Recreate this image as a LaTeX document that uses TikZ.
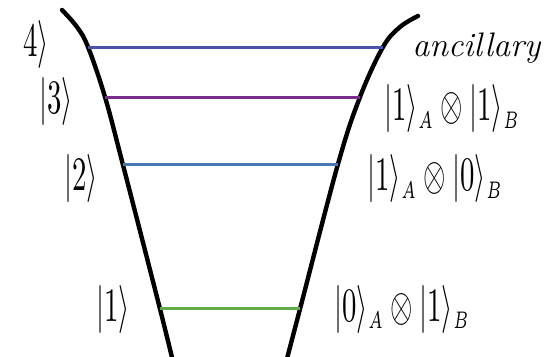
\documentclass[tikz,border=0pt]{standalone}
\usepackage{graphicx}
\usepackage{amsmath}
\usetikzlibrary{positioning}
\definecolor{lvlblue}{RGB}{72,82,168}
\definecolor{lvlpurple}{RGB}{122,45,140}
\definecolor{lvlsteel}{RGB}{72,122,178}
\definecolor{lvlgreen}{RGB}{96,172,74}
\newcommand{\ketlbl}[1]{\scalebox{1.44}[2.4]{$#1$}}
\newcommand{\subtag}[1]{_{\scriptscriptstyle #1}}

\begin{document}
\begin{tikzpicture}[x=0.5pt, y=-0.5pt,
    wall/.style={line width=2.2pt, black, line cap=round},
    level/.style={line width=1.5pt},
    ket/.style={inner sep=0pt, anchor=base west},
    note/.style={inner sep=0pt, anchor=base west, font=\fontsize{17}{20}\selectfont\itshape}
  ]
  \useasboundingbox (0,0) rectangle (555,357);

  % Walls of the well
  \begin{scope}
    \clip (0,0) rectangle (555,357);
    \draw[wall] plot[smooth, tension=0.6] coordinates {(62,10) (77,27) (88,47) (105,97) (123,165) (160,309) (175,370)};
    \draw[wall] plot[smooth, tension=0.6] coordinates {(418,16) (400,27) (383,47) (360,97) (338,164) (300,309) (284,370)};
  \end{scope}

  % Level ends on the walls
  \coordinate (l4) at (88,48);  \coordinate (r4) at (383,48);
  \coordinate (l3) at (105,98); \coordinate (r3) at (360,98);
  \coordinate (l2) at (123,165); \coordinate (r2) at (338,165);
  \coordinate (l1) at (160,308); \coordinate (r1) at (300,308);

  % Energy levels
  \draw[level, lvlblue] (l4) -- (r4);
  \draw[level, lvlpurple] (l3) -- (r3);
  \draw[level, lvlsteel] (l2) -- (r2);
  \draw[level, lvlgreen] (l1) -- (r1);

  % Left labels
  \node[ket] (k4) at (23,57) {\ketlbl{4\rangle}};
  \node[ket] (k3) at (39,114) {\ketlbl{|3\rangle}};
  \node[ket] (k2) at (64,191) {\ketlbl{|2\rangle}};
  \node[ket] (k1) at (96,321) {\ketlbl{|1\rangle}};

  % Right labels
  \node[note] (anc) at (412,57) {ancillary};
  \node[ket] (s3) at (384,121) {\ketlbl{|1\rangle\subtag{A}\otimes|1\rangle\subtag{B}}};
  \node[ket] (s2) at (367,191) {\ketlbl{|1\rangle\subtag{A}\otimes|0\rangle\subtag{B}}};
  \node[ket] (s1) at (334,321) {\ketlbl{|0\rangle\subtag{A}\otimes|1\rangle\subtag{B}}};
\end{tikzpicture}
\end{document}
